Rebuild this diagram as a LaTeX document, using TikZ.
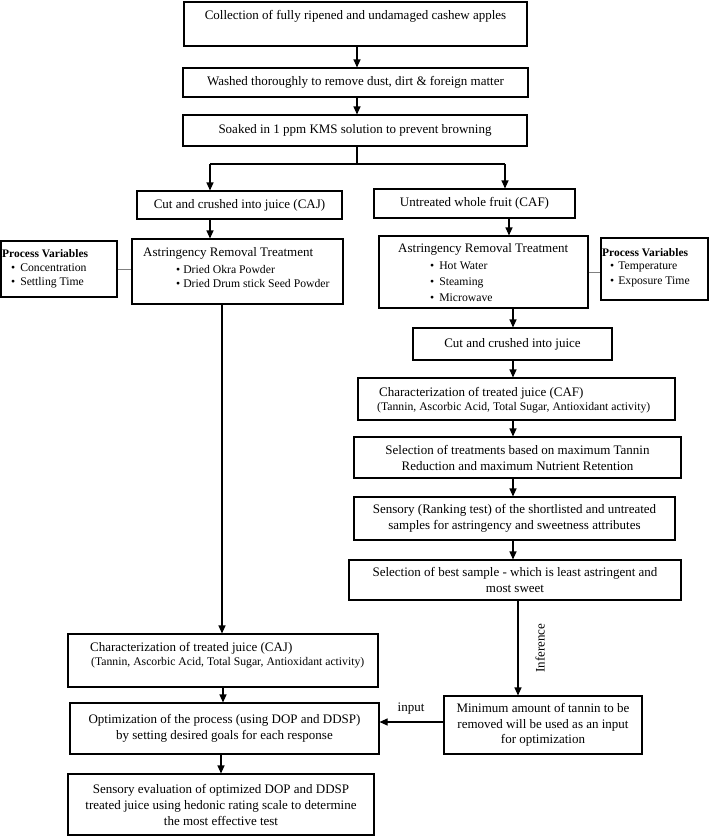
\documentclass[tikz,border=0pt]{standalone}
\usepackage{fontspec}
\setmainfont{Liberation Serif}
\usetikzlibrary{arrows.meta}
\newcommand\mainfs{\fontsize{13}{16}\selectfont}
\newcommand\smallfs{\fontsize{11.7}{14}\selectfont}
\begin{document}
\begin{tikzpicture}[x=1pt,y=-1pt,
  box/.style={draw, line width=1.1pt, inner sep=0pt, align=center, font=\mainfs},
  txt/.style={inner sep=0pt, font=\mainfs},
  sml/.style={inner sep=0pt, font=\smallfs, align=left},
  bld/.style={inner sep=0pt, font=\fontsize{11.5}{14}\selectfont\bfseries},
  arr/.style={line width=1.1pt, -{Triangle[length=8pt,width=7pt]}},
  ln/.style={line width=1.1pt},
  gry/.style={line width=0.9pt, draw=gray}]
\useasboundingbox (0,0) rectangle (709,836);
% column coordinates
\coordinate (spL) at (210,164);
\coordinate (spR) at (505,164);
\coordinate (spM) at (357,164);
\coordinate (colR) at (513,0);
\coordinate (colRa) at (509,0);
\coordinate (inf) at (518,0);
\coordinate (colL) at (222,0);
\coordinate (iy) at (0,722);
% top chain
\node[box, minimum width=343, minimum height=44] (b1) at (355.5,24) {};
\node[txt] (t1) at (355.5,16) {Collection of fully ripened and undamaged cashew apples};
\node[box, minimum width=345, minimum height=29] (b2) at (355.5,82.5) {Washed thoroughly to remove dust, dirt \& foreign matter};
\node[box, minimum width=344, minimum height=31] (b3) at (355,130.5) {Soaked in 1 ppm KMS solution to prevent browning};
\draw[arr] (b1.south -| spM) -- (b2.north -| spM);
\draw[arr] (b2.south -| spM) -- (b3.north -| spM);
% split
\node[box, minimum width=205, minimum height=28] (caj) at (239.5,205) {Cut and crushed into juice (CAJ)};
\node[box, minimum width=201, minimum height=29] (caf) at (474.5,203.5) {Untreated whole fruit (CAF)};
\draw[ln] (b3.south -| spM) -- (spM);
\draw[ln] (spL) -- (spR);
\draw[arr] (spL) -- (spL |- caj.north);
\draw[arr] (spR) -- (spR |- caf.north);
% left treatment
\node[box, minimum width=211, minimum height=65] (artL) at (237.5,271.5) {};
\node[txt, anchor=west] (artLt) at (143,253) {Astringency Removal Treatment};
\node[sml, anchor=west] (artLb) at (176,276) {\textbullet\hspace{3pt}Dried Okra Powder\\\textbullet\hspace{3pt}Dried Drum stick Seed Powder};
\draw[arr] (caj.south -| spL) -- (artL.north -| spL);
\node[box, minimum width=116, minimum height=56] (pvL) at (59,269) {};
\node[bld, anchor=west] (pvLt) at (2,254) {Process Variables};
\node[sml, anchor=west] (pvLb) at (11,276) {\textbullet\hspace{5pt}Concentration\\\textbullet\hspace{5pt}Settling Time};
\draw[gry] (pvL.east) -- (pvL.east -| artL.west);
% right treatment
\node[box, minimum width=209, minimum height=72] (artR) at (483.5,272) {};
\node[txt, anchor=west] (artRt) at (398,249) {Astringency Removal Treatment};
\node[sml, anchor=west, font=\fontsize{11.7}{16}\selectfont] (artRb) at (430,282) {\textbullet\hspace{5pt}Hot Water\\\textbullet\hspace{5pt}Steaming\\\textbullet\hspace{5pt}Microwave};
\draw[arr] (caf.south -| colRa) -- (artR.north -| colRa);
\node[box, minimum width=107, minimum height=62] (pvR) at (654.5,269) {};
\node[bld, anchor=west] (pvRt) at (602,253) {Process Variables};
\node[sml, anchor=west, font=\fontsize{11.7}{15}\selectfont] (pvRb) at (610,274.5) {\textbullet\hspace{4pt}Temperature\\\textbullet\hspace{4pt}Exposure Time};
\draw[gry] (artR.east) -- (artR.east -| pvR.west);
% right chain
\node[box, minimum width=199, minimum height=32] (cut) at (512.5,344) {Cut and crushed into juice};
\draw[arr] (artR.south -| colR) -- (cut.north -| colR);
\node[box, minimum width=317, minimum height=42] (charF) at (516.5,399) {};
\node[txt, anchor=west] (cF1) at (379,393) {Characterization of treated juice (CAF)};
\node[sml, anchor=west] (cF2) at (377,408) {(Tannin, Ascorbic Acid, Total Sugar, Antioxidant activity)};
\draw[arr] (cut.south -| colR) -- (charF.north -| colR);
\node[box, minimum width=327, minimum height=41] (sel) at (517.5,457.5) {Selection of treatments based on maximum Tannin\\Reduction and maximum Nutrient Retention};
\draw[arr] (charF.south -| colR) -- (sel.north -| colR);
\node[box, minimum width=321, minimum height=43] (sens) at (514.5,518.5) {Sensory (Ranking test) of the shortlisted and untreated\\samples for astringency and sweetness attributes};
\draw[arr] (sel.south -| colR) -- (sens.north -| colR);
\node[box, minimum width=332, minimum height=40] (best) at (515,580) {Selection of best sample - which is least astringent and\\most sweet};
\draw[arr] (sens.south -| colR) -- (best.north -| colR);
\node[box, minimum width=198, minimum height=58, font=\fontsize{13}{15.5}\selectfont] (minb) at (543,725) {Minimum amount of tannin to be\\removed will be used as an input\\for optimization};
\draw[arr] (best.south -| inf) -- (minb.north -| inf);
\node[txt, rotate=90] (inflab) at (540,648) {Inference};
% left chain
\node[box, minimum width=310, minimum height=53] (charJ) at (223,660.5) {};
\node[txt, anchor=west] (cJ1) at (90,648) {Characterization of treated juice (CAJ)};
\node[sml, anchor=west] (cJ2) at (91,663) {(Tannin, Ascorbic Acid, Total Sugar, Antioxidant activity)};
\draw[arr] (artL.south -| colL) -- (charJ.north -| colL);
\node[box, minimum width=309, minimum height=51] (opt) at (224.5,728.5) {Optimization of the process (using DOP and DDSP)\\by setting desired goals for each response};
\draw[arr] (charJ.south) -- (charJ.south |- opt.north);
\node[box, minimum width=306, minimum height=61] (seval) at (221,804.5) {Sensory evaluation of optimized DOP and DDSP\\treated juice using hedonic rating scale to determine\\the most effective test};
\draw[arr] (opt.south -| seval.north) -- (seval.north);
\draw[arr] (minb.west |- iy) -- (opt.east |- iy);
\node[txt] (inlab) at (411,709) {input};
\end{tikzpicture}
\end{document}
